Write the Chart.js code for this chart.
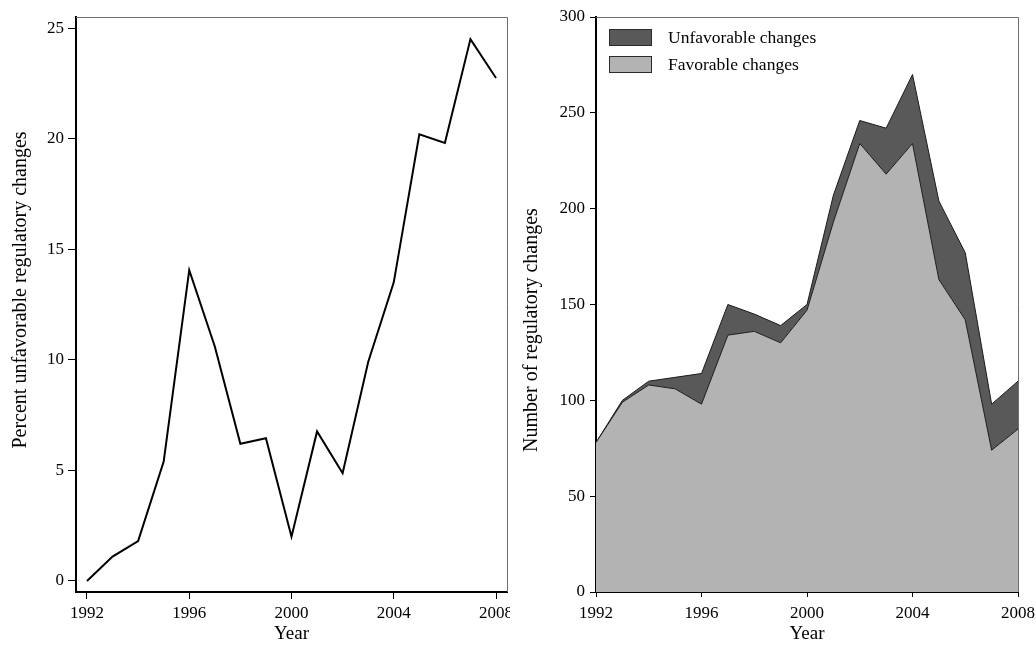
<!DOCTYPE html>
<html>
<head>
<meta charset="utf-8">
<script src="https://cdn.jsdelivr.net/npm/chart.js@4.4.1/dist/chart.umd.min.js"></script>
<style>
  body { margin: 0; background: #fff; overflow: hidden; }
  #left { position: absolute; left: 0; top: 0; width: 510px; height: 645px; overflow: hidden; }
  #right { position: absolute; left: 510px; top: 0; width: 526px; height: 645px; overflow: hidden; }
</style>
</head>
<body>
<div id="left"><canvas id="pctChart" width="518" height="645"></canvas></div>
<div id="right"><canvas id="countChart" width="536" height="645"></canvas></div>
<script>
const years = [1992, 1993, 1994, 1995, 1996, 1997, 1998, 1999, 2000, 2001, 2002, 2003, 2004, 2005, 2006, 2007, 2008];
const percentUnfavorable = [0, 1.1, 1.8, 5.4, 14.05, 10.6, 6.2, 6.45, 2.0, 6.76, 4.87, 9.9, 13.5, 20.2, 19.8, 24.5, 22.74];
const favorable = [78, 99, 108, 106, 98, 134, 136, 130, 147, 193, 234, 218, 234, 163, 142, 74, 85];
const unfavorable = [0, 1, 2, 6, 16, 16, 9, 9, 3, 14, 12, 24, 36, 41, 35, 24, 25];

Chart.defaults.font.family = "'Liberation Serif', 'Times New Roman', serif";
Chart.defaults.color = '#000';

const serif = size => ({ family: "'Liberation Serif', 'Times New Roman', serif", size: size });

// gray frame on the top and right of the plot region
const framePlugin = {
  id: 'frame',
  afterDraw(chart) {
    const { ctx, chartArea: a } = chart;
    ctx.save();
    ctx.strokeStyle = '#6e6e6e';
    ctx.lineWidth = 1;
    ctx.beginPath();
    ctx.moveTo(a.left, a.top + 0.5);
    ctx.lineTo(a.right + 0.5, a.top + 0.5);
    ctx.lineTo(a.right + 0.5, a.bottom);
    ctx.stroke();
    ctx.restore();
  }
};

// vertical y axis title, placed like the original figure
const sideTitle = {
  id: 'sideTitle',
  afterDraw(chart, args, opts) {
    const { ctx } = chart;
    ctx.save();
    ctx.translate(opts.x, opts.y);
    ctx.rotate(-Math.PI / 2);
    ctx.font = "20px 'Liberation Serif', 'Times New Roman', serif";
    ctx.fillStyle = '#000';
    ctx.textAlign = 'center';
    ctx.textBaseline = 'middle';
    ctx.fillText(opts.text, 0, 0);
    ctx.restore();
  }
};

// legend boxes in the top left corner of the plot
const boxLegend = {
  id: 'boxLegend',
  afterDraw(chart) {
    const { ctx, chartArea: a } = chart;
    const sets = chart.data.datasets.slice().reverse();
    ctx.save();
    ctx.font = "17.5px 'Liberation Serif', 'Times New Roman', serif";
    ctx.textBaseline = 'middle';
    sets.forEach((ds, i) => {
      const top = a.top + 12 + i * 27;
      ctx.fillStyle = ds.backgroundColor;
      ctx.fillRect(a.left + 13, top, 43, 17);
      ctx.strokeStyle = '#2b2b2b';
      ctx.lineWidth = 1;
      ctx.strokeRect(a.left + 13.5, top + 0.5, 42, 16);
      ctx.fillStyle = '#000';
      ctx.fillText(ds.label, a.left + 72, top + 9.5);
    });
    ctx.restore();
  }
};

const onlyMultiples = step => scale => {
  scale.ticks = scale.ticks.filter(t => Math.abs(t.value / step - Math.round(t.value / step)) < 1e-9);
};

new Chart(document.getElementById('pctChart'), {
  type: 'line',
  data: {
    datasets: [{
      label: 'Percent unfavorable regulatory changes',
      data: years.map((y, i) => ({ x: y, y: percentUnfavorable[i] })),
      borderColor: '#000',
      borderWidth: 2,
      pointRadius: 0,
      tension: 0,
      fill: false
    }]
  },
  options: {
    responsive: false,
    animation: false,
    devicePixelRatio: 1,
    layout: { padding: { top: 17, right: 11, left: 0, bottom: 0 } },
    plugins: {
      legend: { display: false },
      tooltip: { enabled: false },
      sideTitle: { text: 'Percent unfavorable regulatory changes', x: 21, y: 290 }
    },
    scales: {
      x: {
        type: 'linear',
        min: 1991.57,
        max: 2008.43,
        afterBuildTicks: onlyMultiples(4),
        afterFit: s => { s.height = 53; },
        ticks: { stepSize: 4, includeBounds: false, font: serif(17), padding: 4, maxRotation: 0, callback: v => String(v) },
        grid: { drawOnChartArea: false, tickLength: 7, tickColor: '#000', tickWidth: 1 },
        border: { color: '#000', width: 2 },
        title: { display: true, text: 'Year', font: { ...serif(19), lineHeight: 1 }, padding: { top: 0, bottom: 1 } }
      },
      y: {
        min: -0.5,
        max: 25.5,
        afterBuildTicks: onlyMultiples(5),
        afterFit: s => { s.width = 76; },
        ticks: { stepSize: 5, includeBounds: false, font: serif(17), padding: 4 },
        grid: { drawOnChartArea: false, tickLength: 8, tickColor: '#000', tickWidth: 1 },
        border: { color: '#000', width: 2 }
      }
    }
  },
  plugins: [framePlugin, sideTitle]
});

new Chart(document.getElementById('countChart'), {
  type: 'line',
  data: {
    datasets: [{
      label: 'Favorable changes',
      data: years.map((y, i) => ({ x: y, y: favorable[i] })),
      backgroundColor: '#b3b3b3',
      borderColor: '#1a1a1a',
      borderWidth: 1,
      pointRadius: 0,
      tension: 0,
      fill: 'origin'
    }, {
      label: 'Unfavorable changes',
      data: years.map((y, i) => ({ x: y, y: unfavorable[i] })),
      backgroundColor: '#595959',
      borderColor: '#1a1a1a',
      borderWidth: 1,
      pointRadius: 0,
      tension: 0,
      fill: '-1'
    }]
  },
  options: {
    responsive: false,
    animation: false,
    devicePixelRatio: 1,
    layout: { padding: { top: 17, right: 28, left: 0, bottom: 0 } },
    plugins: {
      legend: { display: false },
      tooltip: { enabled: false },
      filler: { propagate: false },
      sideTitle: { text: 'Number of regulatory changes', x: 22, y: 330 }
    },
    scales: {
      x: {
        type: 'linear',
        min: 1992,
        max: 2008,
        z: 1,
        afterBuildTicks: onlyMultiples(4),
        afterFit: s => { s.height = 53; },
        ticks: { stepSize: 4, includeBounds: false, font: serif(17), padding: 6, maxRotation: 0, callback: v => String(v) },
        grid: { drawOnChartArea: false, tickLength: 5, tickColor: '#000', tickWidth: 1 },
        border: { color: '#000', width: 2 },
        title: { display: true, text: 'Year', font: { ...serif(19), lineHeight: 1 }, padding: { top: 0, bottom: 1 } }
      },
      y: {
        min: 0,
        max: 300,
        stacked: true,
        z: 1,
        afterFit: s => { s.width = 86; },
        ticks: { stepSize: 50, includeBounds: false, font: serif(17), padding: 5 },
        grid: { drawOnChartArea: false, tickLength: 6, tickColor: '#000', tickWidth: 1 },
        border: { color: '#000', width: 2 }
      }
    }
  },
  plugins: [framePlugin, sideTitle, boxLegend]
});
</script>
</body>
</html>
